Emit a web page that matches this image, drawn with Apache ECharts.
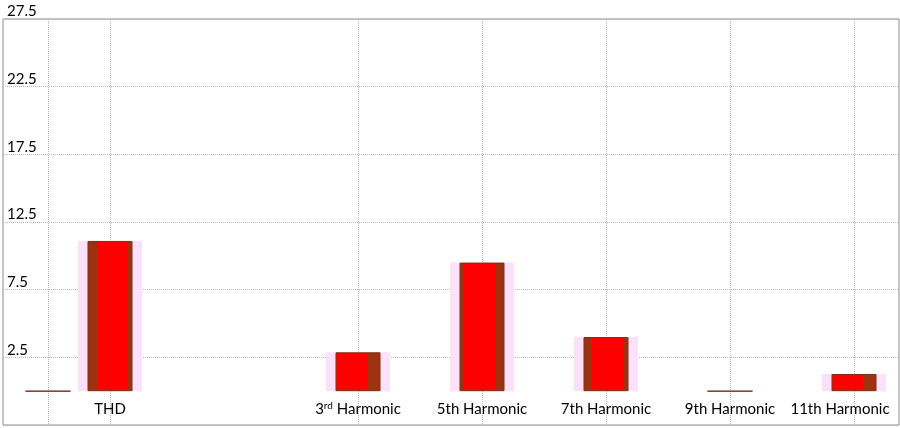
<!DOCTYPE html>
<html><head><meta charset="utf-8">
<script src="https://cdn.jsdelivr.net/npm/echarts@6/dist/echarts.min.js"></script>
<style>html,body{margin:0;padding:0;background:#fff}#c{width:900px;height:428px}</style>
</head><body><div id="c"></div>
<script>
// ---- data ----
const categories = ['', 'THD', '', '', '', '3rd Harmonic', '', '5th Harmonic', '', '7th Harmonic', '', '9th Harmonic', '', '11th Harmonic'];
const values = [0, 11.1, null, null, null, 2.87, null, 9.5, null, 4.0, null, 0, null, 1.27];
const yMin = -2.5, yMax = 27.5, yStep = 5;

// ---- style ----
const FONT = 'Lato';
const RED = '#ff0000', DARK = '#9e3210';
const shade = {1: [0.2, 0.89], 5: [0, 0.73], 7: [0.09, 0.82], 9: [0.18, 0.91], 11: [0, 1], 13: [0, 0.71]};
function grad(i) {
  const s = shade[i] || [0, 1];
  return new echarts.graphic.LinearGradient(0, 0, 1, 0, [
    {offset: 0, color: DARK}, {offset: s[0], color: DARK},
    {offset: s[0], color: RED}, {offset: s[1], color: RED},
    {offset: s[1], color: DARK}, {offset: 1, color: DARK}
  ]);
}
const barData = values.map((v, i) => v == null ? null : {value: v, itemStyle: {color: grad(i)}});
const lastIdx = categories.length - 1;

const chart = echarts.init(document.getElementById('c'), null, {renderer: 'canvas'});
chart.setOption({
  animation: false,
  backgroundColor: '#fff',
  grid: [
    {left: 48, right: 46, top: 19, bottom: 3, containLabel: false, outerBoundsMode: 'none'},
    {left: 3, right: 1, top: 19, bottom: 3, containLabel: false, outerBoundsMode: 'none', show: true, borderColor: '#8a8a8a', borderWidth: 1, backgroundColor: 'transparent'}
  ],
  xAxis: [
    {
      gridIndex: 0, type: 'category', data: categories, boundaryGap: false, position: 'bottom',
      axisLine: {show: false, onZero: false}, axisTick: {show: false},
      axisLabel: {
        interval: 0, margin: -26, color: '#000', fontFamily: FONT, fontSize: 15, lineHeight: 18,
        formatter: function (v, i) {
          if (!v) return '';
          const m = /^(\d+)(rd)( .*)$/.exec(v);
          if (m) return '{t|' + m[1] + '}{s|' + m[2] + '}{t|' + m[3] + '}';
          return (i === lastIdx ? '{e|' : '{t|') + v + '}';
        },
        rich: {
          t: {fontFamily: FONT, fontSize: 15, color: '#000', lineHeight: 18, verticalAlign: 'bottom'},
          e: {fontFamily: FONT, fontSize: 15, color: '#000', lineHeight: 18, verticalAlign: 'bottom', padding: [0, 28, 0, 0]},
          s: {fontFamily: FONT, fontSize: 10, color: '#000', lineHeight: 18, verticalAlign: 'bottom', padding: [0, 0, 6, 0]}
        }
      },
      splitLine: {show: true, interval: function (i) { return values[i] != null; }, lineStyle: {type: 'dotted', color: '#b8b8b8', width: 1}}
    },
    {gridIndex: 0, type: 'category', data: categories, boundaryGap: false, show: false},
    {gridIndex: 1, type: 'value', show: false, min: 0, max: 1}
  ],
  yAxis: [
    {gridIndex: 0, type: 'value', min: yMin, max: yMax, interval: yStep, show: false, splitLine: {show: false}},
    {
      gridIndex: 1, type: 'value', min: yMin, max: yMax, interval: yStep,
      axisLine: {show: false}, axisTick: {show: false},
      axisLabel: {inside: true, margin: 4, showMinLabel: false, verticalAlign: 'bottom', color: '#000', fontFamily: FONT, fontSize: 15, lineHeight: 15,
        formatter: v => v.toFixed(1)},
      splitLine: {show: true, lineStyle: {type: 'dotted', color: '#b8b8b8', width: 1}}
    }
  ],
  series: [
    {type: 'bar', name: 'halo', xAxisIndex: 0, yAxisIndex: 0, barWidth: 64, data: values, silent: true, z: 1,
      itemStyle: {color: '#fde0f9'}},
    {type: 'bar', name: 'value', xAxisIndex: 1, yAxisIndex: 0, barWidth: 45, data: barData, z: 2,
      itemStyle: {borderColor: '#7a3018', borderWidth: 1}}
  ]
});
</script></body></html>
